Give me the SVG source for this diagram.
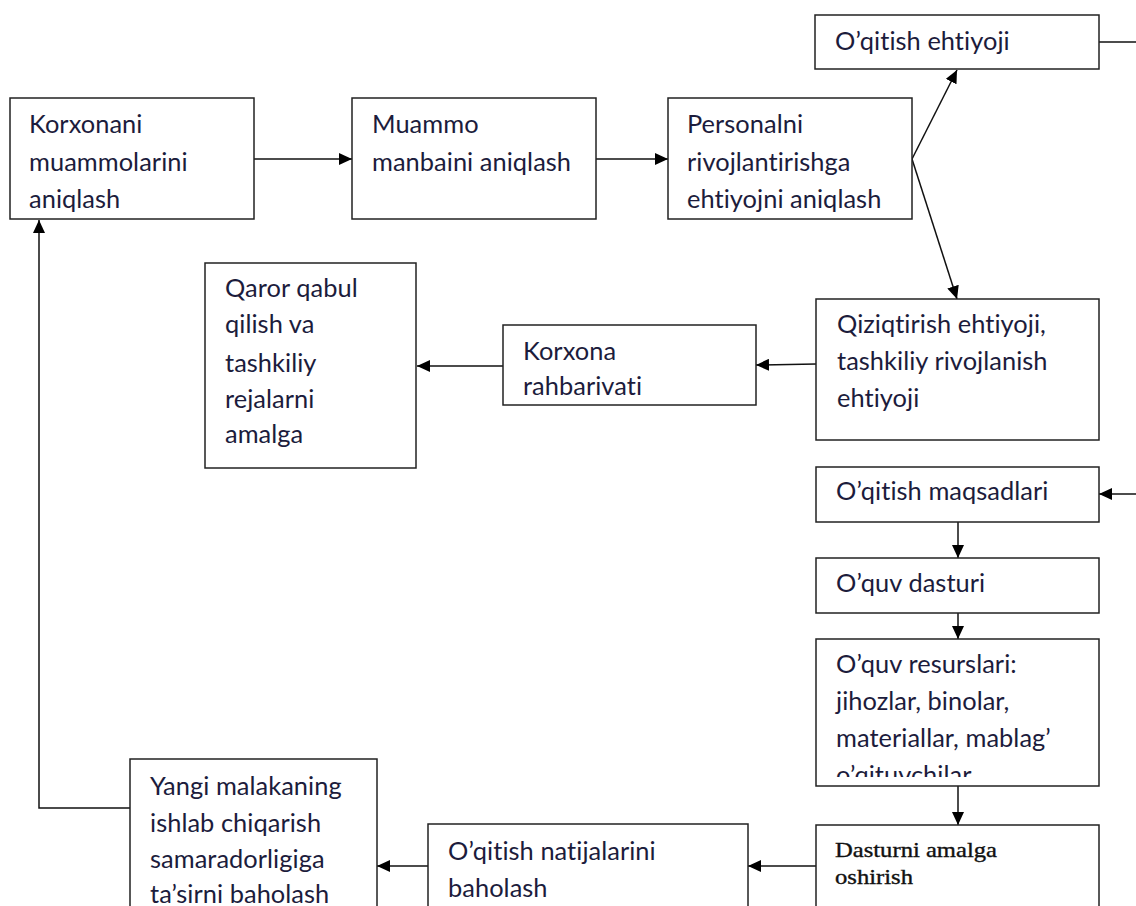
<svg xmlns="http://www.w3.org/2000/svg" width="1136" height="906" viewBox="0 0 1136 906">
<defs>
<marker id="ah" markerUnits="userSpaceOnUse" markerWidth="13" markerHeight="12" refX="13" refY="6" orient="auto">
<path d="M0,0 L13,6 L0,12 z" fill="#000"/>
</marker>
<clipPath id="clipRes"><rect x="816" y="639" width="283" height="138"/></clipPath>
</defs>
<style>
.box{fill:#fff;stroke:#222;stroke-width:1.5}
.t{font-family:Lato,"Liberation Sans",sans-serif;font-size:25.4px;fill:#1c1c3c;letter-spacing:0.05px;font-variant-ligatures:none;font-feature-settings:"liga" 0,"clig" 0,"dlig" 0,"calt" 0}
.s{font-family:"Liberation Serif",serif;font-size:21px;fill:#111;stroke:#111;stroke-width:0.35}
.c{fill:none;stroke:#111;stroke-width:1.5}
.ca{fill:none;stroke:#111;stroke-width:1.5;marker-end:url(#ah)}
</style>
<rect width="1136" height="906" fill="#fff"/>
<g id="connectors">
<line class="ca" x1="254" y1="159" x2="352" y2="159"/>
<line class="ca" x1="596" y1="159" x2="668" y2="159"/>
<line class="ca" x1="912" y1="159" x2="957" y2="70"/>
<line class="ca" x1="912" y1="159" x2="957" y2="299"/>
<line class="c" x1="1099" y1="42" x2="1136" y2="42"/>
<line class="ca" x1="816" y1="364" x2="756" y2="365"/>
<line class="ca" x1="503" y1="366" x2="417" y2="366"/>
<line class="ca" x1="1136" y1="494" x2="1099" y2="494"/>
<line class="ca" x1="958" y1="522" x2="958" y2="558"/>
<line class="ca" x1="958" y1="613" x2="958" y2="639"/>
<line class="ca" x1="958" y1="786" x2="958" y2="825"/>
<line class="ca" x1="816" y1="866" x2="748" y2="866"/>
<line class="ca" x1="428" y1="866" x2="377" y2="866"/>
<polyline class="ca" points="130,808 39,808 39,220"/>
</g>
<g id="n1"><rect class="box" x="10" y="98" width="244" height="121"/>
<text class="t" x="29" y="133">Korxonani</text><text class="t" x="29" y="171">muammolarini</text><text class="t" x="29" y="208">aniqlash</text></g>
<g id="n2"><rect class="box" x="352" y="98" width="244" height="121"/>
<text class="t" x="372" y="133">Muammo</text><text class="t" x="372" y="171">manbaini aniqlash</text></g>
<g id="n3"><rect class="box" x="668" y="98" width="244" height="121"/>
<text class="t" x="687" y="133">Personalni</text><text class="t" x="687" y="171">rivojlantirishga</text><text class="t" x="687" y="208">ehtiyojni aniqlash</text></g>
<g id="n4"><rect class="box" x="815" y="15" width="284" height="54"/>
<text class="t" x="835" y="50">O’qitish ehtiyoji</text></g>
<g id="n5"><rect class="box" x="816" y="299" width="283" height="141"/>
<text class="t" x="837" y="333">Qiziqtirish ehtiyoji,</text><text class="t" x="837" y="370">tashkiliy rivojlanish</text><text class="t" x="837" y="407">ehtiyoji</text></g>
<g id="n6"><rect class="box" x="503" y="325" width="253" height="80"/>
<text class="t" x="523" y="360">Korxona</text><text class="t" x="523" y="395">rahbarivati</text></g>
<g id="n7"><rect class="box" x="205" y="263" width="211" height="205"/>
<text class="t" x="225" y="297">Qaror qabul</text><text class="t" x="225" y="333">qilish va</text><text class="t" x="225" y="372">tashkiliy</text><text class="t" x="225" y="408">rejalarni</text><text class="t" x="225" y="443">amalga</text></g>
<g id="n8"><rect class="box" x="816" y="467" width="283" height="55"/>
<text class="t" x="836" y="500">O’qitish maqsadlari</text></g>
<g id="n9"><rect class="box" x="816" y="558" width="283" height="55"/>
<text class="t" x="836" y="592">O’quv dasturi</text></g>
<g id="n10"><rect class="box" x="816" y="639" width="283" height="147"/>
<g clip-path="url(#clipRes)"><text class="t" x="836" y="673">O’quv resurslari:</text><text class="t" x="836" y="710">jihozlar, binolar,</text><text class="t" x="836" y="747">materiallar, mablag’</text><text class="t" x="836" y="784">o’qituvchilar</text></g></g>
<g id="n11"><rect class="box" x="816" y="825" width="283" height="100"/>
<text class="s" x="835" y="857" textLength="162" lengthAdjust="spacingAndGlyphs">Dasturni amalga</text><text class="s" x="835" y="884" textLength="78" lengthAdjust="spacingAndGlyphs">oshirish</text></g>
<g id="n12"><rect class="box" x="428" y="824" width="320" height="100"/>
<text class="t" x="448" y="860">O’qitish natijalarini</text><text class="t" x="448" y="897">baholash</text></g>
<g id="n13"><rect class="box" x="130" y="759" width="247" height="170"/>
<text class="t" x="150" y="795">Yangi malakaning</text><text class="t" x="150" y="832">ishlab chiqarish</text><text class="t" x="150" y="868">samaradorligiga</text><text class="t" x="150" y="903">ta’sirni baholash</text></g>
</svg>
